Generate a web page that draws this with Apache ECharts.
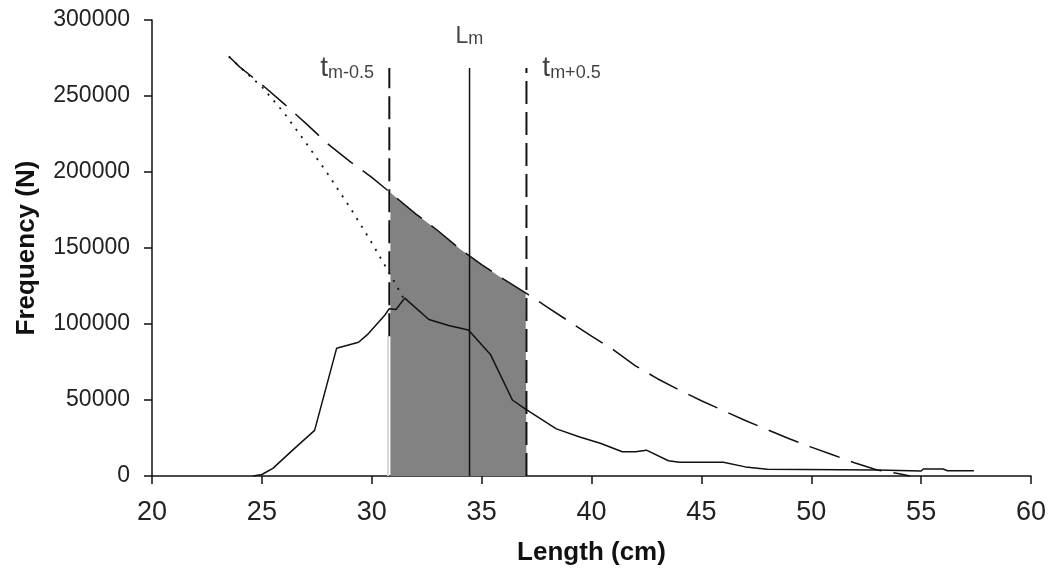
<!DOCTYPE html>
<html><head><meta charset="utf-8">
<script src="https://cdn.jsdelivr.net/npm/echarts@6/dist/echarts.min.js"></script>
<style>html,body{margin:0;padding:0;background:#fff}#c{width:1053px;height:572px}</style>
</head><body><div id="c"></div>
<script>
// ---- data ----
const envelopeX = [23.5, 24, 25, 26, 27, 28, 29, 30, 30.8, 31, 32, 33, 34, 35, 36, 37, 38, 39, 40, 41, 42, 43, 44, 45, 46, 47, 48, 49, 50, 51, 52, 53, 54, 54.5];
const envelopeY = [276000, 269000, 257500, 245000, 232000, 218500, 207000, 196500, 187000, 184500, 172500, 161500, 149500, 139000, 129500, 120500, 111000, 101500, 92000, 83000, 72500, 64000, 56500, 49500, 43000, 36500, 30500, 24500, 19000, 13800, 8500, 4000, 1500, 0];

const dottedX = [23.5, 24, 24.5, 25.01, 26.01, 27.02, 28.02, 29.02, 30.02, 31.03, 31.44];
const dottedY = [276000, 269000, 262500, 255900, 238900, 218900, 198300, 176400, 153000, 127700, 117100];

const observedX = [24.6, 25.0, 25.5, 26.4, 27.4, 28.4, 29.4, 29.8, 30.6, 30.8, 31.1, 31.5, 32.6, 33.5, 34.4, 35.4, 36.4, 37.0, 38.4, 39.5, 40.4, 41.4, 42.0, 42.5, 43.5, 44.0, 46.0, 47.0, 48.0, 53.0, 55.0, 55.1, 56.0, 56.2, 57.4];
const observedY = [0, 1000, 5000, 17000, 30000, 84000, 88000, 93000, 106000, 110000, 109500, 117000, 103000, 99000, 96000, 80000, 50000, 44000, 31000, 25500, 21500, 16000, 16000, 17000, 10000, 9000, 9000, 6000, 4500, 4000, 3300, 4600, 4600, 3500, 3500];

const shadeX = [30.85, 31, 32, 33, 34, 35, 36, 37, 37.04];
const shadeY = [186500, 184500, 172500, 161500, 149500, 139000, 129500, 120500, 120000];

const tLow = 30.8, lm = 34.45, tHigh = 37.04;
const markerTop = 268500;
const tLowSolidBottom = 92000;

const xTicks = { min: 20, max: 60, interval: 5 };
const yTicks = { min: 0, max: 300000, interval: 50000 };

const annotations = [
  { main: 't', sub: 'm-0.5', x: 28.88, y: 268400, mainSize: 28 },
  { main: 'L', sub: 'm', x: 34.44, y: 290800, mainSize: 23 },
  { main: 't', sub: 'm+0.5', x: 39.09, y: 268400, mainSize: 28 }
];
// --------------------------------------

const pairs = (xs, ys) => xs.map((x, i) => [x, ys[i]]);
const INK = '#111';
const sans = '"Liberation Sans", Arial, sans-serif';

const chart = echarts.init(document.getElementById('c'), null, { renderer: 'canvas' });

const lineBase = { type: 'line', symbol: 'none', showSymbol: false, silent: true, animation: false };

const series = [
  Object.assign({}, lineBase, {
    name: 'shade', z: 1, data: pairs(shadeX, shadeY),
    lineStyle: { width: 0, opacity: 0 },
    areaStyle: { color: '#828282', opacity: 1 }
  }),
  Object.assign({}, lineBase, {
    name: 'tLowLight', z: 2, data: [[tLow - 0.06, 0], [tLow - 0.06, tLowSolidBottom]],
    lineStyle: { color: '#d8d8d8', width: 2 }
  }),
  Object.assign({}, lineBase, {
    name: 'tLow', z: 3, data: [[tLow, tLowSolidBottom], [tLow, markerTop]],
    lineStyle: { color: INK, width: 2, type: [23, 8] }
  }),
  Object.assign({}, lineBase, {
    name: 'Lm', z: 3, data: [[lm, 0], [lm, markerTop]],
    lineStyle: { color: INK, width: 1.5 }
  }),
  Object.assign({}, lineBase, {
    name: 'tHigh', z: 3, data: [[tHigh, 0], [tHigh, markerTop]],
    lineStyle: { color: INK, width: 2, type: [23, 8] }
  }),
  Object.assign({}, lineBase, {
    name: 'dotted', z: 4, data: pairs(dottedX, dottedY),
    lineStyle: { color: INK, width: 1.8, type: [2, 7] }
  }),
  Object.assign({}, lineBase, {
    name: 'observed', z: 5, data: pairs(observedX, observedY),
    lineStyle: { color: INK, width: 1.5 }
  }),
  Object.assign({}, lineBase, {
    name: 'envelope', z: 5, data: pairs(envelopeX, envelopeY),
    lineStyle: { color: INK, width: 1.5, type: [32, 12] }
  }),
  {
    type: 'scatter', name: 'labels', z: 6, silent: true, animation: false,
    symbolSize: 0,
    data: annotations.map(a => ({ value: [a.x, a.y], main: a.main, sub: a.sub, mainSize: a.mainSize })),
    label: {
      show: true, position: 'inside',
      formatter: p => (p.data.mainSize > 25 ? '{a|' : '{b|') + p.data.main + '}{s|' + p.data.sub + '}',
      rich: {
        a: { fontFamily: sans, fontSize: 28, color: INK, verticalAlign: 'bottom', lineHeight: 28 },
        b: { fontFamily: sans, fontSize: 23, color: INK, verticalAlign: 'bottom', lineHeight: 28 },
        s: { fontFamily: sans, fontSize: 18, color: INK, verticalAlign: 'bottom', lineHeight: 25 }
      }
    }
  }
];

chart.setOption({
  animation: false,
  backgroundColor: '#fff',
  grid: { left: 152, right: 22, top: 20, bottom: 96 },
  xAxis: {
    type: 'value', min: xTicks.min, max: xTicks.max, interval: xTicks.interval,
    name: 'Length (cm)', nameLocation: 'middle', nameGap: 64,
    nameTextStyle: { fontFamily: sans, fontWeight: 'bold', fontSize: 26, color: INK },
    axisLine: { onZero: false, lineStyle: { color: INK, width: 1.5 } },
    axisTick: { show: true, length: 8, lineStyle: { color: INK, width: 1.5 } },
    axisLabel: { margin: 23, fontFamily: sans, fontSize: 27, color: '#222', formatter: v => String(v) },
    splitLine: { show: false }
  },
  yAxis: {
    type: 'value', min: yTicks.min, max: yTicks.max, interval: yTicks.interval,
    name: 'Frequency (N)', nameLocation: 'middle', nameGap: 112, nameRotate: 90,
    nameTextStyle: { fontFamily: sans, fontWeight: 'bold', fontSize: 26, color: INK },
    axisLine: { show: true, lineStyle: { color: INK, width: 1.5 } },
    axisTick: { show: true, length: 8, lineStyle: { color: INK, width: 1.5 } },
    axisLabel: { margin: 22, fontFamily: sans, fontSize: 23, color: '#222', formatter: v => String(v) },
    splitLine: { show: false }
  },
  series: series
});
</script>
</body></html>
